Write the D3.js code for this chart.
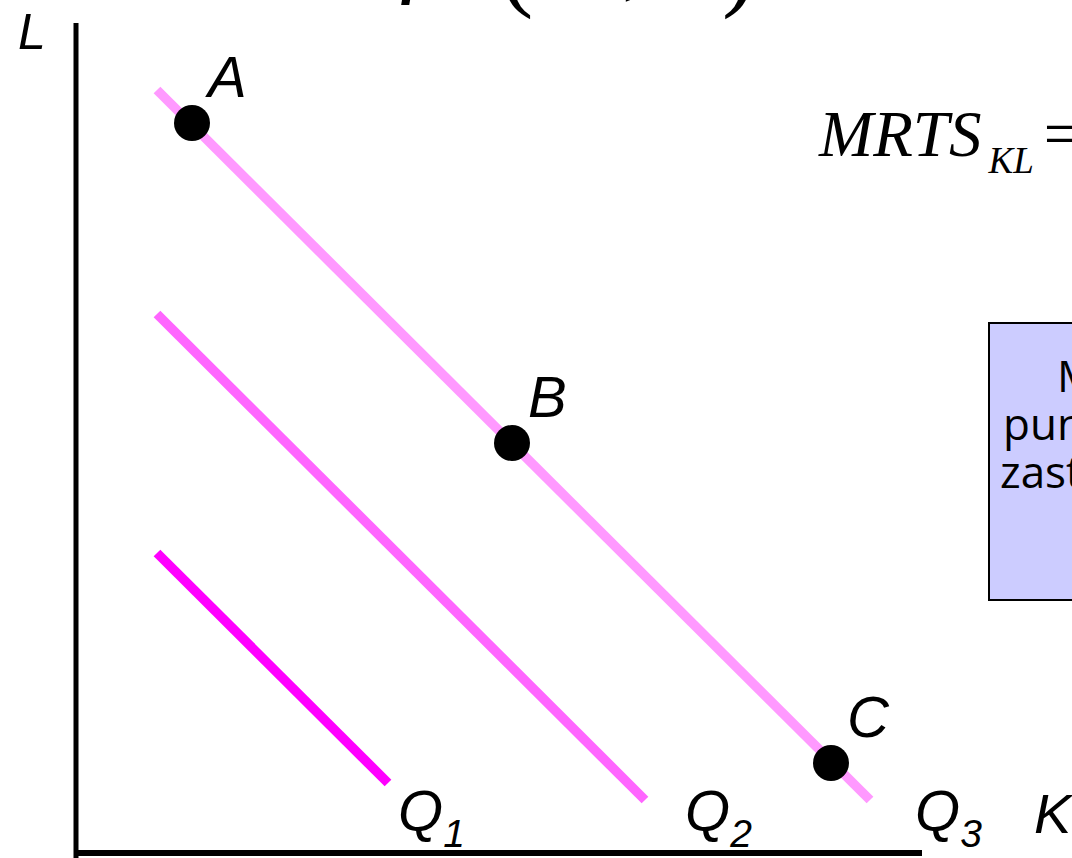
<!DOCTYPE html>
<html><head><meta charset="utf-8">
<script src="https://cdn.jsdelivr.net/npm/d3@7"></script>
<style>html,body{margin:0;padding:0;background:#fff;overflow:hidden}</style>
</head><body>
<svg id="chart" width="1072" height="858"></svg>
<script>
// ---- data ----
const isoquantNames = ["Q1", "Q2", "Q3"];
const isoquantSubs = ["1", "2", "3"];
const isoquantStartK = [8.1, 8.1, 8.1];
const isoquantStartL = [30.0, 53.9, 76.3];
const isoquantEndK = [31.2, 56.9, 79.4];
const isoquantEndL = [7.0, 5.3, 5.3];
const pointNames = ["A", "B", "C"];
const pointK = [11.6, 43.6, 75.5];
const pointL = [73.0, 41.0, 9.0];
const boxLines = ["MRTS jest stała", "punkt po punkcie", "zastępowalność"];

const svg = d3.select("#chart");
const x = d3.scaleLinear().domain([0, 100]).range([76, 1076]);
const y = d3.scaleLinear().domain([0, 83]).range([853, 23]);
const colors = ["#ff00ff", "#ff66ff", "#ff99ff"];

// formula at top (mostly cut off by the top edge)
const serif = "'Liberation Serif', 'Times New Roman', serif";
const f = svg.append("g").attr("font-family", serif).attr("font-size", 100).attr("fill", "#000");
f.append("text").attr("x", 250).attr("y", -30).attr("font-style", "italic").text("Q =");
f.append("text").attr("x", 400).attr("y", -16).attr("font-style", "italic").text("f");
f.append("text").attr("x", 500).attr("y", -2).text("(");
f.append("text").attr("x", 548).attr("y", -10).attr("font-style", "italic").text("K");
f.append("text").attr("x", 622).attr("y", -14).text(",");
f.append("text").attr("x", 655).attr("y", -10).attr("font-style", "italic").text("L");
f.append("text").attr("x", 722).attr("y", -2).text(")");

// axes
const yAxis = d3.axisLeft(y).tickValues([]).tickSizeOuter(0);
const xAxis = d3.axisBottom(x).tickValues([]).tickSizeOuter(0);
const yg = svg.append("g").attr("transform", `translate(${x(0)},0)`).call(yAxis);
yg.select(".domain").attr("stroke", "#000").attr("stroke-width", 5).attr("d", `M0,${y(83)}V${y(-0.5)}`);
const xg = svg.append("g").attr("transform", `translate(0,${y(0)})`).call(xAxis);
xg.select(".domain").attr("stroke", "#000").attr("stroke-width", 6).attr("d", `M${x(0.2)},0H${x(84.6)}`);

// isoquants
const isoData = isoquantNames.map((n, i) => ({
  name: n, sub: isoquantSubs[i],
  k0: isoquantStartK[i], l0: isoquantStartL[i], k1: isoquantEndK[i], l1: isoquantEndL[i], c: colors[i]
}));
svg.selectAll("line.iso").data(isoData).join("line").attr("class", "iso")
  .attr("x1", d => x(d.k0)).attr("y1", d => y(d.l0))
  .attr("x2", d => x(d.k1)).attr("y2", d => y(d.l1))
  .attr("stroke", d => d.c).attr("stroke-width", 9.5);

const font = "'Liberation Sans', Arial, sans-serif";
const qOff = [10, 40, 45];
const ql = svg.selectAll("text.ql").data(isoData).join("text").attr("class", "ql")
  .attr("x", (d, i) => x(d.k1) + qOff[i])
  .attr("y", 831)
  .attr("font-family", font).attr("font-style", "italic").attr("font-size", 58);
ql.append("tspan").text("Q");
ql.append("tspan").attr("font-size", 39).attr("dy", 16).text(d => d.sub);

// points
const pts = pointNames.map((n, i) => ({ name: n, k: pointK[i], l: pointL[i] }));
svg.selectAll("circle.pt").data(pts).join("circle").attr("class", "pt")
  .attr("cx", d => x(d.k)).attr("cy", d => y(d.l)).attr("r", 18).attr("fill", "#000");
svg.selectAll("text.pl").data(pts).join("text").attr("class", "pl")
  .attr("x", d => x(d.k) + 16).attr("y", d => y(d.l) - 26)
  .attr("font-family", font).attr("font-style", "italic").attr("font-size", 58)
  .text(d => d.name);

// axis labels
svg.append("text").attr("x", 18).attr("y", 49).attr("font-family", font)
  .attr("font-style", "italic").attr("font-size", 50).text("L");
svg.append("text").attr("x", 1034).attr("y", 833).attr("font-family", font)
  .attr("font-style", "italic").attr("font-size", 56).text("K");

// MRTS formula
const m = svg.append("text").attr("x", 819).attr("y", 156)
  .attr("font-family", serif).attr("font-style", "italic").attr("font-size", 65);
m.append("tspan").text("MRTS");
m.append("tspan").attr("font-size", 37).attr("dx", 7).attr("dy", 17).text("KL");
m.append("tspan").attr("dx", 10).attr("dy", -17).attr("font-style", "normal").text("=");

// info box
svg.append("rect").attr("x", 989).attr("y", 323).attr("width", 300).attr("height", 277)
  .attr("fill", "#ccccff").attr("stroke", "#000").attr("stroke-width", 2);
const bx = [1057, 1003, 1000];
const by = [392, 440, 488];
svg.selectAll("text.box").data(boxLines).join("text").attr("class", "box")
  .attr("x", (d, i) => bx[i]).attr("y", (d, i) => by[i])
  .attr("font-family", "'Open Sans', sans-serif").attr("font-size", 44)
  .text(d => d);
</script>
</body></html>
